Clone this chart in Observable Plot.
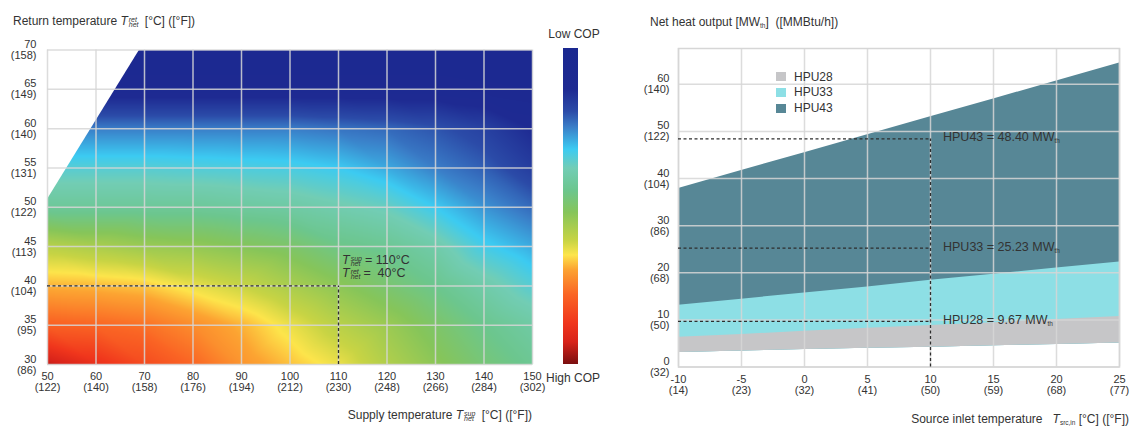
<!DOCTYPE html>
<html><head><meta charset="utf-8">
<script src="https://cdn.jsdelivr.net/npm/d3@7"></script>
<script src="https://cdn.jsdelivr.net/npm/@observablehq/plot@0.6"></script>
<style>
body{margin:0;background:#fff;font-family:"Liberation Sans",Arial,sans-serif;color:#333}
#root{position:relative;width:1130px;height:426px;overflow:hidden;background:#fff}
.abs{position:absolute;white-space:nowrap}
.lbl{font-size:12px;color:#333;line-height:14px}
.ss{display:inline-flex;flex-direction:column;font-size:7px;line-height:5.5px;vertical-align:3.5px;font-style:italic;margin:0 3px 0 1px}
sub.th{font-size:6.5px;vertical-align:-2px}
.ann{font-size:12.5px;line-height:12.5px;color:#333}
.ann .ss{font-size:7px;line-height:5.2px}
.ann div{height:12.5px;overflow:visible}
</style></head><body><div id="root"></div><script>
// ---------- Left chart data ----------
const supplyTicks = [50,60,70,80,90,100,110,120,130,140,150];
const supplyTicksF = ["(122)","(140)","(158)","(176)","(194)","(212)","(230)","(248)","(266)","(284)","(302)"];
const returnTicks = [30,35,40,45,50,55,60,65,70];
const returnTicksF = ["(86)","(95)","(104)","(113)","(122)","(131)","(140)","(149)","(158)"];
const copRet30 = [0.05,0.11,0.17,0.22,0.28,0.32,0.36,0.42,0.47,0.52,0.56];
const copRet35 = [0.21,0.22,0.235,0.27,0.31,0.36,0.41,0.45,0.50,0.55,0.59];
const copRet40 = [0.31,0.315,0.325,0.36,0.39,0.43,0.47,0.51,0.55,0.60,0.65];
const copRet45 = [0.41,0.43,0.45,0.46,0.48,0.50,0.54,0.56,0.60,0.67,0.71];
const copRet50 = [0.57,0.57,0.57,0.57,0.58,0.59,0.61,0.63,0.68,0.73,0.77];
const copRet55 = [0.65,0.65,0.65,0.655,0.66,0.665,0.68,0.71,0.75,0.78,0.83];
const copRet60 = [0.75,0.75,0.75,0.75,0.75,0.75,0.76,0.77,0.79,0.82,0.87];
const copRet65 = [0.90,0.90,0.90,0.90,0.90,0.90,0.90,0.90,0.90,0.91,0.92];
const copRet70 = [0.95,0.95,0.95,0.95,0.95,0.95,0.95,0.95,0.95,0.95,0.95];
const copRows = [copRet30,copRet35,copRet40,copRet45,copRet50,copRet55,copRet60,copRet65,copRet70];
// colour scale (from "High COP" to "Low COP")
const colorStops = [0,0.07,0.13,0.22,0.30,0.345,0.39,0.48,0.55,0.62,0.68,0.75,0.80,0.87,1];
const colorRange = ["#7a0f10","#d8231a","#f0361c","#fa6524","#fca432","#fde54b","#c8d444","#86c55a","#6cc68e","#72cdb5","#3ccbf2","#3a7ec8","#2b4ba8","#1e2a92","#1a2890"];
// operating limit (return temperature cannot exceed supply + 1)
const limitSupply = [50,69];
const limitReturn = [51,70];
// design point
const designSupply = 110;
const designReturn = 40;

// ---------- Right chart data ----------
const sourceTemp = [-10,-5,0,5,10,15,20,25];
const sourceTempF = ["(14)","(23)","(32)","(41)","(50)","(59)","(68)","(77)"];
const outputTicks = [0,10,20,30,40,50,60];
const outputTicksF = ["(32)","(50)","(68)","(86)","(104)","(122)","(140)"];
const bandBottom = [3.1,3.4,3.7,4.0,4.2,4.5,4.8,5.1];
const hpu28 = [6.3,6.9,7.6,8.2,8.8,9.4,10.1,10.7];
const hpu33 = [13.1,14.4,15.7,17.0,18.4,19.7,21.0,22.3];
const hpu43 = [37.9,41.7,45.5,49.3,53.1,56.9,60.7,64.5];
const seriesNames = ["HPU28","HPU33","HPU43"];
const seriesColors = ["#c6c6c8","#8ddfe5","#578796"];
const designSource = 10;
const designOutputs = [9.67,25.23,48.40];

const root = document.getElementById("root");
const font = {fontFamily:"'Liberation Sans',Arial,sans-serif",fontSize:"11px",color:"#333",overflow:"visible",background:"transparent"};
const gridStyle = {stroke:"#d6d6d6",strokeOpacity:0.85,strokeWidth:1.5};
const dash = {stroke:"#2e2e2e",strokeWidth:1.3,strokeDasharray:"3,2.5"};

const sMin = supplyTicks[0], sMax = supplyTicks[supplyTicks.length-1];
const rMin = returnTicks[0], rMax = returnTicks[returnTicks.length-1];

// ---------- Left chart ----------
const copGrid = returnTicks.flatMap((r,j)=>copRows[j].map((t,i)=>({supply:supplyTicks[i],ret:r,t})));
const maskRows = limitSupply.map((s,i)=>({supply:s,lo:limitReturn[i],hi:rMax}));
const left = Plot.plot({
  width:545,height:395,marginLeft:47,marginRight:13,marginTop:49.5,marginBottom:31,
  style:font,
  x:{domain:[sMin,sMax]},
  y:{domain:[rMin,rMax]},
  color:{type:"linear",domain:colorStops,range:colorRange,interpolate:"rgb",clamp:true},
  marks:[
    Plot.raster(copGrid,{x:"supply",y:"ret",fill:"t",interpolate:"barycentric",x1:sMin,x2:sMax,y1:rMin,y2:rMax}),
    Plot.areaY(maskRows,{x:"supply",y1:"lo",y2:"hi",fill:"white"}),
    Plot.gridX(supplyTicks,gridStyle),
    Plot.gridY(returnTicks,gridStyle),
    Plot.ruleY([{y:designReturn,x1:sMin,x2:designSupply}],{y:"y",x1:"x1",x2:"x2",...dash}),
    Plot.ruleX([{x:designSupply,y1:rMin,y2:designReturn}],{x:"x",y1:"y1",y2:"y2",...dash}),
    Plot.axisX(supplyTicks,{tickSize:0,tickPadding:8,label:null,fill:"#333",fontSize:11,
      tickFormat:d=>`${d}\n${supplyTicksF[supplyTicks.indexOf(d)]}`}),
    Plot.axisY(returnTicks,{tickSize:0,tickPadding:11,label:null,fill:"#333",fontSize:11,
      tickFormat:d=>`${d}\n${returnTicksF[returnTicks.indexOf(d)]}`})
  ]
});
left.style.position="absolute";left.style.left="0px";left.style.top="0px";
root.appendChild(left);

// ---------- Right chart ----------
const rowsFor = vals => sourceTemp.map((x,i)=>({x,y1:bandBottom[i],y2:vals[i]}));
const designRows = designOutputs.map(v=>({y:v,x1:sourceTemp[0],x2:designSource}));
const right = Plot.plot({
  width:530,height:395,marginLeft:78,marginRight:11,marginTop:48,marginBottom:28.5,
  style:font,
  x:{domain:[sourceTemp[0],sourceTemp[sourceTemp.length-1]]},
  y:{domain:[0,67.6]},
  marks:[
    Plot.areaY(rowsFor(hpu43),{x:"x",y1:"y1",y2:"y2",fill:seriesColors[2]}),
    Plot.areaY(rowsFor(hpu33),{x:"x",y1:"y1",y2:"y2",fill:seriesColors[1]}),
    Plot.areaY(rowsFor(hpu28),{x:"x",y1:"y1",y2:"y2",fill:seriesColors[0]}),
    Plot.gridX(sourceTemp,gridStyle),
    Plot.gridY(outputTicks,gridStyle),
    Plot.frame({stroke:"#d6d6d6",strokeWidth:1.5}),
    Plot.ruleY(designRows,{y:"y",x1:"x1",x2:"x2",...dash}),
    Plot.ruleX([{x:designSource,y1:0,y2:d3.max(designOutputs)}],{x:"x",y1:"y1",y2:"y2",...dash}),
    Plot.axisX(sourceTemp,{tickSize:0,tickPadding:8,label:null,fill:"#333",fontSize:11,
      tickFormat:d=>`${d}\n${sourceTempF[sourceTemp.indexOf(d)]}`}),
    Plot.axisY(outputTicks,{tickSize:0,tickPadding:9,label:null,fill:"#333",fontSize:11,
      tickFormat:d=>`${d}\n${outputTicksF[outputTicks.indexOf(d)]}`})
  ]
});
right.style.position="absolute";right.style.left="600px";right.style.top="0px";
root.appendChild(right);

// ---------- HTML texts ----------
function add(html,css,cls="abs lbl"){const d=document.createElement("div");d.className=cls;d.innerHTML=html;Object.assign(d.style,css);root.appendChild(d);return d;}
const Tss = (a,b)=>`<i>T</i><span class="ss"><span>${a}</span><span>${b}</span></span>`;
add(`Return temperature ${Tss("ret","het")} [°C] ([°F])`,{left:"13px",top:"14px"});
add(`Supply temperature ${Tss("sup","het")} [°C] ([°F])`,{right:(1130-532)+"px",top:"408px"});
add(`Net heat output [MW<sub class="th">th</sub>]&nbsp;&nbsp;([MMBtu/h])`,{left:"650px",top:"15px"});
add(`Source inlet temperature&nbsp;&nbsp; <i>T</i><sub class="th">src,in</sub> [°C] ([°F])`,{right:"1px",top:"412px"});

// colour legend
const grad = colorStops.map((s,i)=>`${colorRange[i]} ${s*100}%`).join(",");
add("",{left:"563px",top:"48px",width:"15px",height:"316px",background:`linear-gradient(to top, ${grad})`},"abs");
add("Low COP",{left:"574px",top:"27px",transform:"translateX(-50%)"});
add("High COP",{left:"573px",top:"371px",transform:"translateX(-50%)"});

// design point annotation (left), two separate lines
const lx = left.scale("x").apply(designSupply), ly = left.scale("y").apply(designReturn);
add(`${Tss("sup","het")}= ${designSupply}°C`,{left:(lx+4)+"px",top:(ly-31)+"px"},"abs ann");
add(`${Tss("ret","het")}=&nbsp; ${designReturn}°C`,{left:(lx+4)+"px",top:(ly-18)+"px"},"abs ann");

// right annotations
const rx = right.scale("x").apply(designSource);
designOutputs.forEach((v,i)=>{
  const ry = right.scale("y").apply(v);
  add(`${seriesNames[i]} = ${v.toFixed(2)} MW<sub class="th">th</sub>`,{left:(600+rx+13)+"px",top:(ry-7)+"px"},"abs ann");
});

// series legend (right)
seriesNames.forEach((n,i)=>{
  const top = 72 + i*15.8;
  add("",{left:"776px",top:top+"px",width:"10px",height:"9px",background:seriesColors[i]},"abs");
  add(n,{left:"794px",top:(top-2.5)+"px"});
});
</script></body></html>
